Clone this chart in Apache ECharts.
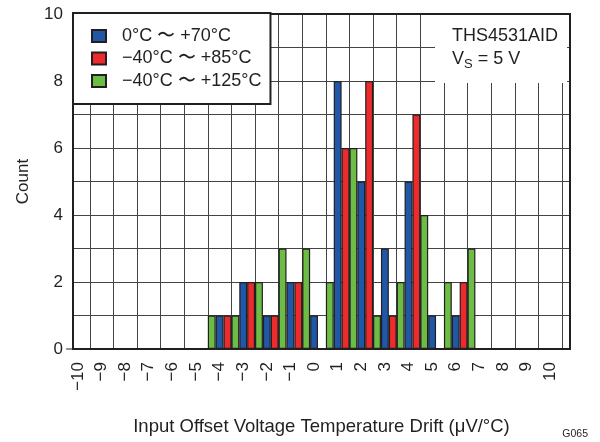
<!DOCTYPE html>
<html>
<head>
<meta charset="utf-8">
<script src="https://cdn.jsdelivr.net/npm/echarts@6/dist/echarts.min.js"></script>
<style>
html,body{margin:0;padding:0;background:#fff;}
#chart{width:600px;height:442px;}
</style>
</head>
<body>
<div id="chart"></div>
<script>
// x categories (µV/°C bins)
const categories = [-10,-9,-8,-7,-6,-5,-4,-3,-2,-1,0,1,2,3,4,5,6,7,8,9,10];
// counts per bin
const blue70  = [0,0,0,0,0,0,1,2,1,2,1,8,5,3,5,1,1,0,0,0,0];
const red85   = [0,0,0,0,0,0,1,2,1,2,0,6,8,1,7,0,2,0,0,0,0];
const green125= [0,0,0,0,0,0,1,1,2,3,3,2,6,1,2,4,2,3,0,0,0];
// tick labels
const xTickLabels = categories.slice();
const xGridLines = categories.map(v => v + 0.5);
const yTickLabels = [0,2,4,6,8,10];

const names = ['0°C 〜 +70°C', '−40°C 〜 +85°C', '−40°C 〜 +125°C'];
const FONT = '"Liberation Sans", Arial, Helvetica, sans-serif';
const TXT = '#231f20';

function pairs(arr){ return categories.map((c,i)=>[c, arr[i]]); }

const chart = echarts.init(document.getElementById('chart'), null, {renderer:'canvas'});
const barCommon = {
  type:'bar',
  barGap:'0%',
  barCategoryGap:'0%',
  itemStyle:{borderColor:'#231f20', borderWidth:1.2}
};
chart.setOption({
  animation:false,
  textStyle:{fontFamily:FONT, color:TXT},
  grid:{left:73, right:30, top:14, bottom:93, show:true, borderColor:'#231f20', borderWidth:2, backgroundColor:'transparent', z:3},
  title:[{
    text:'THS4531AID\nV{s|S} = 5 V',
    left:435, top:15,
    padding:[10,9,12,17],
    backgroundColor:'#fff',
    textStyle:{fontSize:18, fontWeight:'normal', color:TXT, lineHeight:23, fontFamily:FONT,
      rich:{s:{fontSize:13, padding:[9,0,0,0], fontFamily:FONT, color:TXT}}}
  },{
    text:'G065', right:7, top:424,
    textStyle:{fontSize:10.5, fontWeight:'normal', color:TXT, fontFamily:FONT}
  }],
  legend:{
    data:names,
    orient:'vertical',
    left:73, top:13,
    padding:[14,9,14,18],
    itemWidth:14, itemHeight:12, itemGap:4.5,
    icon:'rect',
    backgroundColor:'#fff',
    borderColor:'#231f20', borderWidth:2,
    textStyle:{fontSize:18, color:TXT, fontFamily:FONT, padding:[0,0,0,11]}
  },
  xAxis:{
    type:'value', min:-10.21, max:10.84,
    name:'Input Offset Voltage Temperature Drift (μV/°C)',
    nameLocation:'middle', nameGap:68,
    nameTextStyle:{fontSize:18.5, color:TXT, fontFamily:FONT},
    axisLine:{show:false},
    axisTick:{show:false, customValues:xGridLines},
    axisLabel:{customValues:xTickLabels, rotate:90, margin:13, fontSize:17, color:TXT, fontFamily:FONT,
      formatter:v => (v<0 ? '−'+Math.abs(v) : String(v))},
    splitLine:{show:true, lineStyle:{color:'#444', width:1}}
  },
  yAxis:{
    type:'value', min:0, max:10, interval:1,
    name:'Count', nameLocation:'middle', nameGap:41,
    nameTextStyle:{fontSize:17, color:TXT, fontFamily:FONT},
    axisLine:{show:false},
    axisTick:{show:false},
    axisLabel:{customValues:yTickLabels, margin:10, fontSize:17, color:TXT, fontFamily:FONT},
    splitLine:{show:true, lineStyle:{color:'#444', width:1}}
  },
  series:[
    Object.assign({}, barCommon, {name:names[2], data:pairs(green125), itemStyle:Object.assign({}, barCommon.itemStyle, {color:'#6cbd45'})}),
    Object.assign({}, barCommon, {name:names[0], data:pairs(blue70), itemStyle:Object.assign({}, barCommon.itemStyle, {color:'#2157a7'})}),
    Object.assign({}, barCommon, {name:names[1], data:pairs(red85), itemStyle:Object.assign({}, barCommon.itemStyle, {color:'#ee2b2c'})})
  ]
});
</script>
</body>
</html>
